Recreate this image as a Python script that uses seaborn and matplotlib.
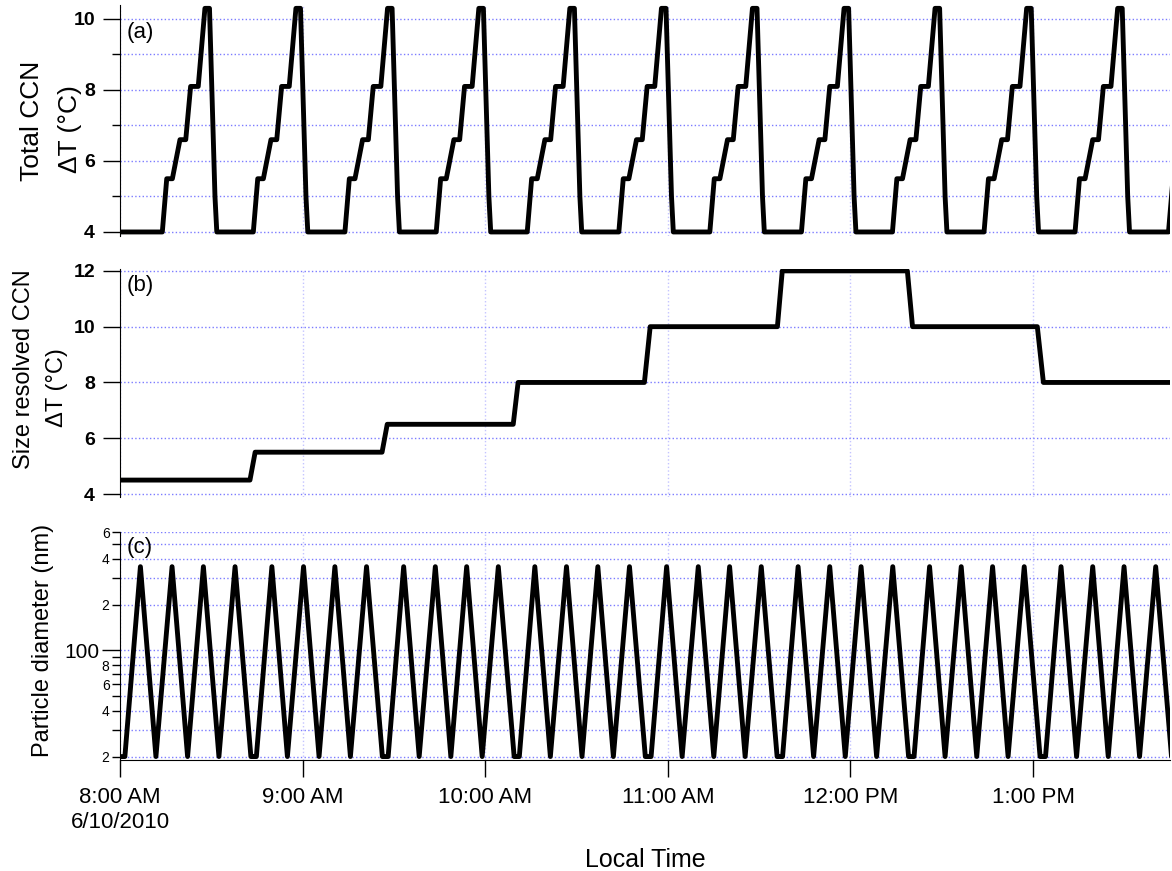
import pandas as pd
import matplotlib
matplotlib.use("Agg")
import matplotlib.pyplot as plt
import seaborn as sns

# time axis: minutes after 8:00 AM, 6/10/2010
start = pd.Timestamp("2010-06-10 08:00")
end_min = 345

# (a) total CCN column: one temperature ramp, repeated every 30 min
ramp_start_min = [13.9, 43.8, 73.9, 103.9, 133.8, 163.9, 193.8, 223.9, 253.8, 283.9, 313.8, 344.5]
ramp_offset_min = [0, 1.45, 3.3, 5.8, 7.7, 9.3, 11.8, 14.0, 15.5, 17.3, 17.9]
ramp_dT = [4, 5.5, 5.5, 6.6, 6.6, 8.1, 8.1, 10.3, 10.3, 5.0, 4.0]

# (b) size resolved CCN column: step changes
step_min = [0, 42.7, 44.4, 86.1, 87.8, 129.2, 130.8, 172.3, 174.2,
            216.0, 217.6, 258.7, 260.4, 301.4, 303.4, 346]
step_dT = [4.5, 4.5, 5.5, 5.5, 6.5, 6.5, 8, 8, 10, 10, 12, 12, 10, 10, 8, 8]

# (c) DMA scans: a short wait at 20 nm then 4 up/down scans
scan_cycle_start_min = [0.0, 43.2, 86.5, 129.6, 172.9, 216.1, 259.3, 302.5]
scan_offset_min = [0, 1.6, 6.7, 11.8, 17.1, 22.2, 27.4, 32.5, 37.8, 43.0]
scan_diam = [20, 20, 355, 20, 355, 20, 355, 20, 355, 20]

hour_labels = ["8:00 AM\n6/10/2010", "9:00 AM", "10:00 AM", "11:00 AM", "12:00 PM", "1:00 PM"]

# build the tables
a_min = [0] + [s + o for s in ramp_start_min for o in ramp_offset_min]
a_val = [4] + ramp_dT * len(ramp_start_min)
df_a = pd.DataFrame({"time": start + pd.to_timedelta(a_min, unit="m"), "dT": a_val})

df_b = pd.DataFrame({"time": start + pd.to_timedelta(step_min, unit="m"), "dT": step_dT})

c_min = [s + o for s in scan_cycle_start_min for o in scan_offset_min]
c_val = scan_diam * len(scan_cycle_start_min)
df_c = pd.DataFrame({"time": start + pd.to_timedelta(c_min, unit="m"), "dp": c_val})

sns.set_style("ticks", {"axes.edgecolor": "black", "xtick.color": "black",
                        "ytick.color": "black", "text.color": "black",
                        "axes.labelcolor": "black"})
plt.rcParams["font.family"] = ["Liberation Sans", "DejaVu Sans"]

W, H = 1172, 871
fig = plt.figure(figsize=(W / 100, H / 100), dpi=100)
left, width = 0.1024, 0.8959
ax_a = fig.add_axes([left, 0.7296, width, 0.2649])
ax_b = fig.add_axes([left, 0.4296, width, 0.2610], sharex=ax_a)
ax_c = fig.add_axes([left, 0.1271, width, 0.2621], sharex=ax_a)

line_kw = dict(color="black", linewidth=3.5, estimator=None, sort=False)
sns.lineplot(data=df_a, x="time", y="dT", ax=ax_a, **line_kw)
sns.lineplot(data=df_b, x="time", y="dT", ax=ax_b, **line_kw)
sns.lineplot(data=df_c, x="time", y="dp", ax=ax_c, **line_kw)

hours = pd.date_range(start, periods=6, freq="h")
ax_c.set_xticks(hours.to_pydatetime(), labels=hour_labels)
ax_c.set_xlim(start, start + pd.Timedelta(minutes=end_min))

grid_y = dict(color="#7c7cff", linestyle=":", linewidth=1)
grid_x = dict(color="#c4c4ff", linestyle=":", linewidth=1)

# panel a
ax_a.set_ylim(3.9, 10.4)
ax_a.set_yticks([4, 6, 8, 10])
ax_a.set_yticks([5, 7, 9], minor=True)

# panel b
ax_b.set_ylim(3.9, 12.05)
ax_b.set_yticks([4, 6, 8, 10, 12])

for ax in (ax_a, ax_b):
    ax.tick_params(axis="y", which="major", length=12, width=1, pad=6, labelsize=14)
    ax.tick_params(axis="y", which="minor", length=6, width=1)
    for lab in ax.get_yticklabels():
        lab.set_fontweight("bold")
    ax.tick_params(axis="x", bottom=False, labelbottom=False)
    ax.set_xlabel("")
    ax.set_ylabel("")
    sns.despine(ax=ax, top=True, right=True, bottom=True)

# panel c
ax_c.set_yscale("log")
ax_c.set_ylim(18.9, 600)
ax_c.set_yticks([100], labels=["100"])
minor_ticks = [20, 30, 40, 50, 60, 70, 80, 90, 200, 300, 400, 500, 600]
minor_labels = ["2", "", "4", "", "6", "", "8", "", "2", "", "4", "", "6"]
ax_c.set_yticks(minor_ticks, labels=minor_labels, minor=True)
ax_c.tick_params(axis="y", which="major", length=13, width=1, pad=2, labelsize=15)
ax_c.tick_params(axis="y", which="minor", length=6, width=1, pad=1.5, labelsize=10)
ax_c.tick_params(axis="x", which="major", length=12, width=1, pad=7.5, labelsize=16)
ax_c.tick_params(axis="x", which="minor", bottom=False)
ax_c.set_ylabel("")
ax_c.set_xlabel("Local Time", fontsize=18)
ax_c.xaxis.set_label_coords(0.5, -0.382)
sns.despine(ax=ax_c, top=True, right=True)

# y axis titles, one text per line (pixel centres)
ylab_lines = [("Total CCN", 32, 121, 19), ("\u0394T (\u00b0C)", 70, 129, 19),
              ("Size resolved CCN", 24, 369, 17), ("\u0394T (\u00b0C)", 57, 388, 17),
              ("Particle diameter (nm)", 43, 640, 17)]
for txt, px, py, fs in ylab_lines:
    fig.text(px / W, 1 - py / H, txt, rotation=90, ha="center", va="center", fontsize=fs)

for ax, tag, ty in ((ax_a, "(a)", 0.925), (ax_b, "(b)", 0.975), (ax_c, "(c)", 0.98)):
    ax.grid(True, which="both", axis="y", **grid_y)
    ax.grid(True, which="major", axis="x", **grid_x)
    ax.set_axisbelow(True)
    ax.text(0.006, ty, tag, transform=ax.transAxes, fontsize=16, va="top", ha="left")

fig.savefig("out.png", dpi=100)
